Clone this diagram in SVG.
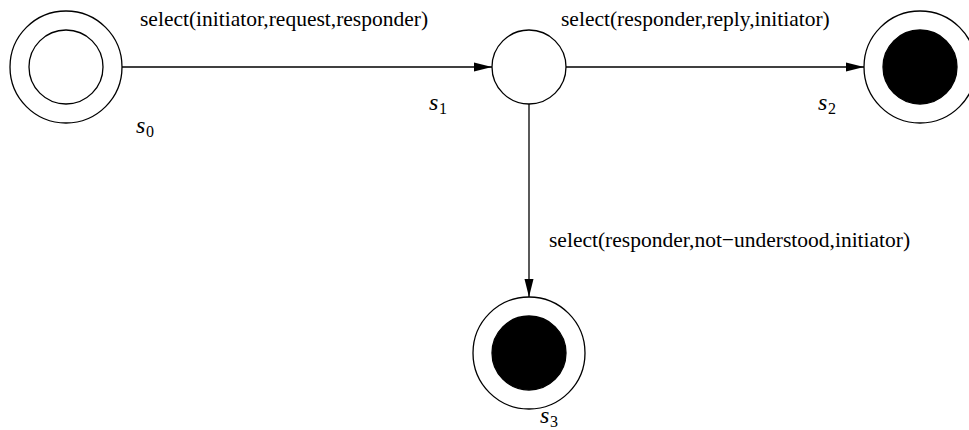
<svg xmlns="http://www.w3.org/2000/svg" width="969" height="430" viewBox="0 0 969 430">
  <style>
    .ring { fill: #ffffff; stroke: #000000; stroke-width: 1.3; }
    .core { fill: #000000; stroke: #000000; stroke-width: 1.3; }
    .edge { fill: none; stroke: #000000; stroke-width: 1.3; }
    .lbl { font-family: "Liberation Serif", "Times New Roman", serif; font-size: 21.5px; fill: #000000; }
    .var { font-family: "Liberation Serif", "Times New Roman", serif; font-style: italic; font-size: 24px; fill: #000000; }
    .sub { font-family: "Liberation Serif", "Times New Roman", serif; font-size: 16px; fill: #000000; }
  </style>
  <defs>
    <marker id="arrow" markerWidth="18" markerHeight="10" refX="18" refY="5" orient="auto" markerUnits="userSpaceOnUse">
      <path d="M0,0.5 L18,5 L0,9.5 Z" fill="#000000"/>
    </marker>
  </defs>

  <rect x="0" y="0" width="969" height="430" fill="#ffffff"/>

  <!-- transitions -->
  <g id="connectors">
    <line class="edge" x1="122" y1="67" x2="492" y2="67" marker-end="url(#arrow)"/>
    <line class="edge" x1="566" y1="67" x2="864" y2="67" marker-end="url(#arrow)"/>
    <line class="edge" x1="529" y1="104" x2="529" y2="297" marker-end="url(#arrow)"/>
    <text class="lbl" x="140" y="26">select(initiator,request,responder)</text>
    <text class="lbl" x="561" y="26">select(responder,reply,initiator)</text>
    <text class="lbl" x="549" y="247">select(responder,not−understood,initiator)</text>
  </g>

  <!-- initial state -->
  <g id="s0">
    <circle class="ring" cx="66" cy="67" r="56"/>
    <circle class="ring" cx="66" cy="67" r="37"/>
    <text class="var" x="136" y="133">s</text>
    <text class="sub" x="146" y="137">0</text>
  </g>

  <g id="s1">
    <circle class="ring" cx="529" cy="67" r="37"/>
    <text class="var" x="429" y="110">s</text>
    <text class="sub" x="439" y="114">1</text>
  </g>

  <!-- final states -->
  <g id="s2">
    <circle class="ring" cx="920" cy="67" r="56"/>
    <circle class="core" cx="920" cy="67" r="37"/>
    <text class="var" x="818" y="110">s</text>
    <text class="sub" x="828" y="114">2</text>
  </g>

  <g id="s3">
    <circle class="ring" cx="529" cy="353" r="56"/>
    <circle class="core" cx="529" cy="353" r="37"/>
    <text class="var" x="540" y="423">s</text>
    <text class="sub" x="550" y="427">3</text>
  </g>
</svg>
